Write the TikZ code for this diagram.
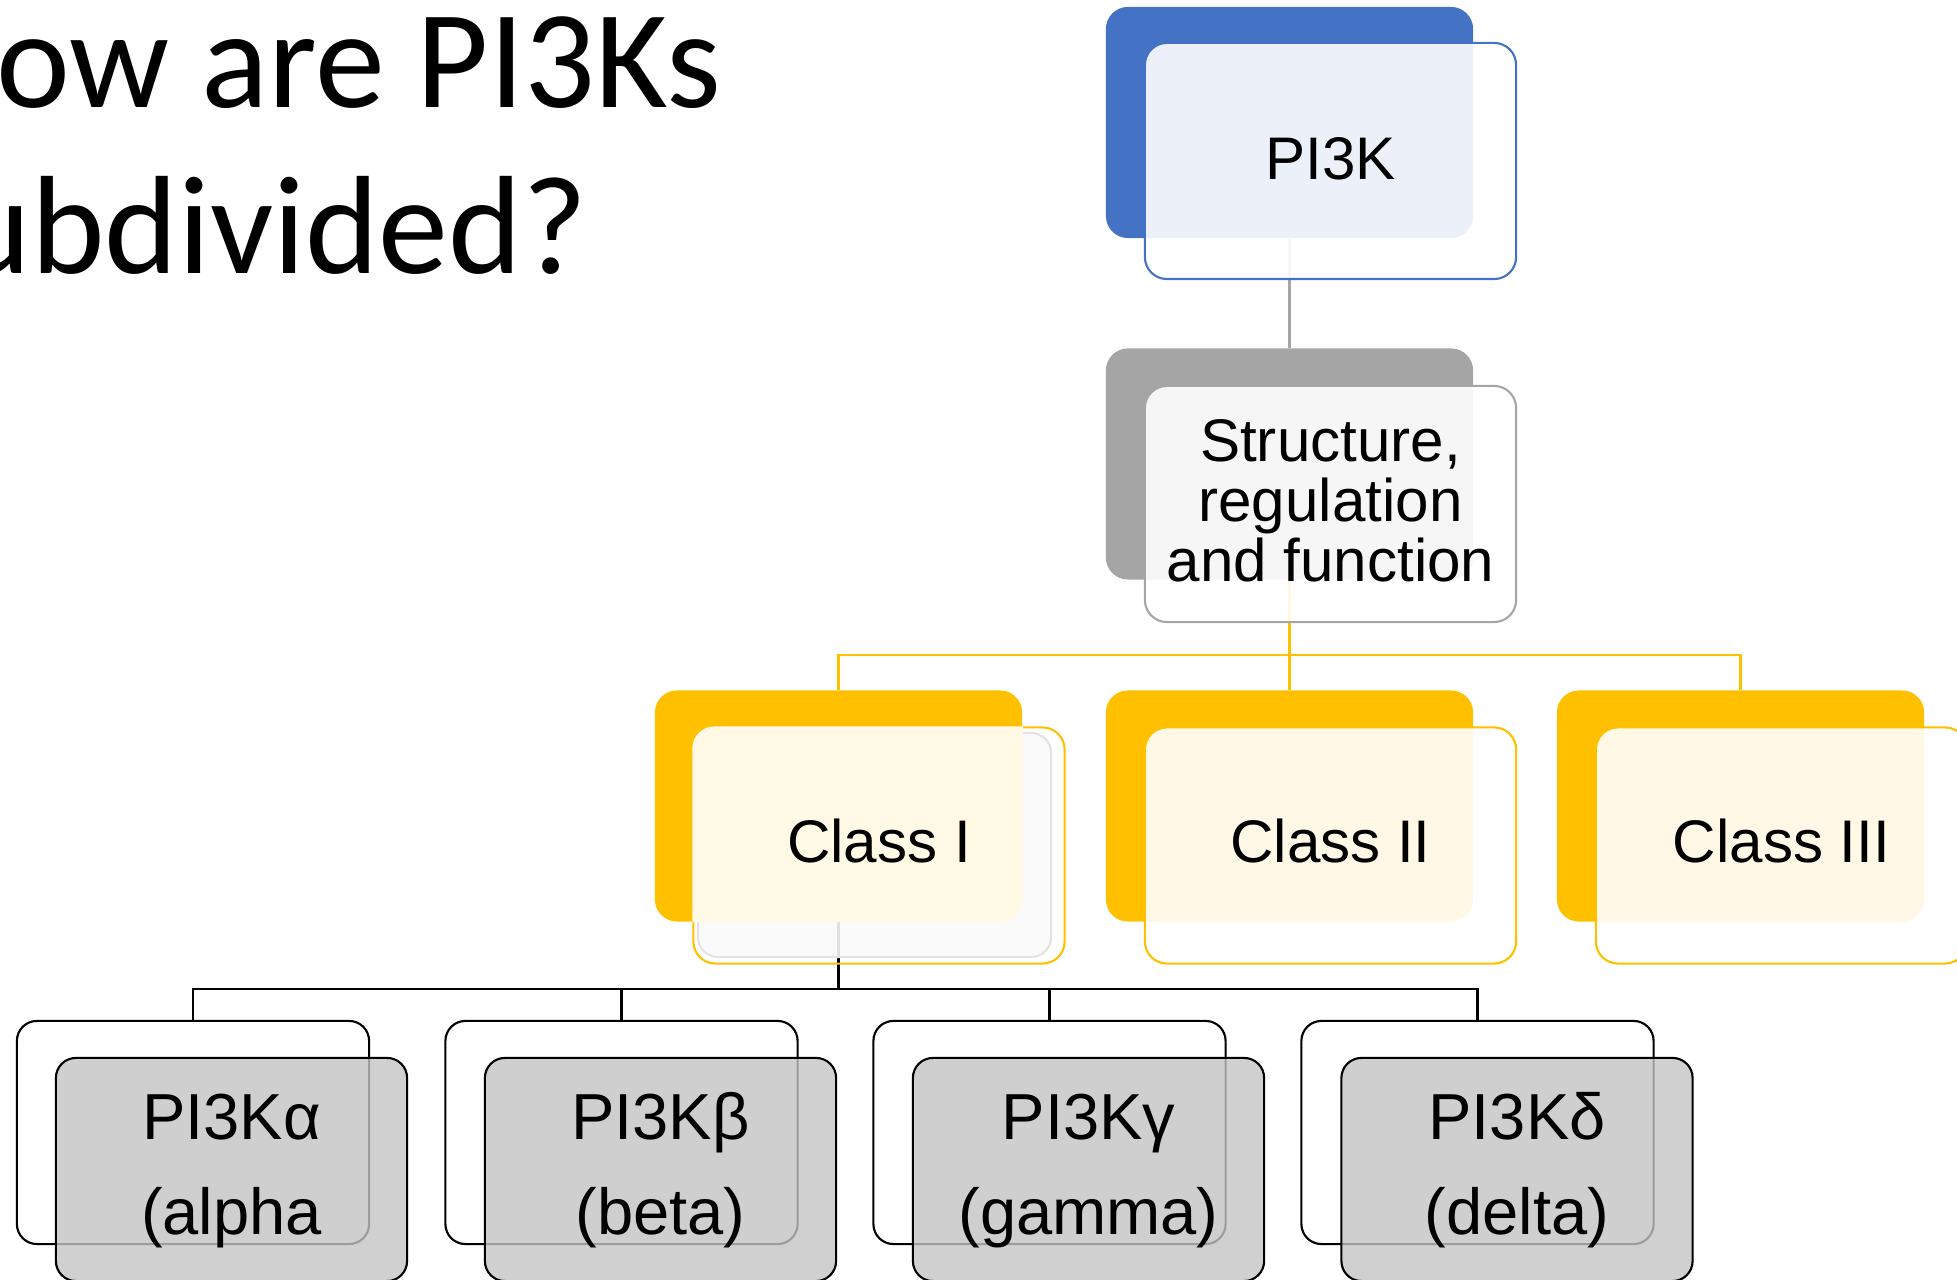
\documentclass[tikz,border=0pt]{standalone}
\usepackage{fontspec}
\setmainfont{Liberation Sans}
\newfontfamily\titlefont{Carlito}
\definecolor{pblue}{HTML}{4472C4}
\definecolor{pgray}{HTML}{A5A5A5}
\definecolor{pyel}{HTML}{FFC000}
\definecolor{plight}{HTML}{FFF9E5}
\definecolor{pshade}{HTML}{C4C4C4}
\definecolor{pghost}{HTML}{F9F9F9}
\definecolor{pghostline}{HTML}{E3E3E3}
\begin{document}
\begin{tikzpicture}[x=0.01cm,y=-0.01cm,
  backbox/.style={rectangle, minimum width=3.67cm, minimum height=2.31cm, inner sep=0pt, rounded corners=0.22cm},
  frontbox/.style={rectangle, minimum width=3.71cm, minimum height=2.36cm, inner sep=0pt, rounded corners=0.22cm, line width=0.6pt, fill=white, fill opacity=0.9},
  leafback/.style={rectangle, minimum width=3.52cm, minimum height=2.23cm, inner sep=0pt, rounded corners=0.2cm, draw=black, line width=0.6pt, fill=white},
  leaffront/.style={rectangle, minimum width=3.51cm, minimum height=2.23cm, inner sep=0pt, rounded corners=0.2cm, draw=black, line width=0.6pt, fill=pshade, fill opacity=0.8},
  ghostbox/.style={rectangle, minimum width=3.53cm, minimum height=2.24cm, inner sep=0pt, rounded corners=0.2cm, draw=pghostline, line width=0.6pt, fill=pghost, fill opacity=0.9},
  lab/.style={anchor=base, inner sep=0pt, font=\fontsize{17.1pt}{20pt}\selectfont},
  leaflab/.style={anchor=base, inner sep=0pt, font=\fontsize{18.5pt}{22pt}\selectfont},
  titlelab/.style={anchor=base east, inner sep=0pt, font=\titlefont\fontsize{39.8pt}{48pt}\selectfont},
  conn/.style={line width=0.6pt}
]
\useasboundingbox (0,0) rectangle (1957,1280);
\clip (0,0) rectangle (1957,1280);

% title
\node[titlelab] (t1) at (722,108) {ow are PI3Ks};
\node[titlelab] (t2) at (588,274) {ubdivided?};

% back boxes
\node[backbox, fill=pblue] (pkb) at (1289.5,122.5) {};
\node[backbox, fill=pgray] (sb) at (1289.5,464) {};
\node[backbox, fill=pyel] (c1b) at (838.5,806) {};
\node[backbox, fill=pyel] (c2b) at (1289.5,806) {};
\node[backbox, fill=pyel] (c3b) at (1740.5,806) {};
\node[leafback] (l1b) at (193,1132.5) {};
\node[leafback] (l2b) at (621.5,1132.5) {};
\node[leafback] (l3b) at (1049.5,1132.5) {};
\node[leafback] (l4b) at (1477.5,1132.5) {};

% connectors
\coordinate (j0) at (1289.5,655);
\coordinate (j1) at (838.5,989);
\draw[conn, pgray] (pkb.south) -- (sb.north);
\draw[conn, pyel] (sb.south) -- (j0) -| (c1b.north);
\draw[conn, pyel] (j0) -- (c2b.north);
\draw[conn, pyel] (j0) -| (c3b.north);
\draw[conn, black] (c1b.south) -- (j1) -| (l1b.north);
\draw[conn, black] (j1) -| (l2b.north);
\draw[conn, black] (j1) -| (l3b.north);
\draw[conn, black] (j1) -| (l4b.north);

% front boxes
\node[frontbox, draw=pblue] (pkf) at (1330.5,161) {};
\node[frontbox, draw=pgray] (sf) at (1330.5,504) {};
\node[ghostbox] (gh) at (874.5,845) {};
\node[rectangle, minimum width=3.71cm, minimum height=2.36cm, inner sep=0pt, rounded corners=0.22cm, line width=0.6pt, draw=pyel] (c1f) at (879,845.5) {};
\begin{scope}
  \clip[rounded corners=0.22cm] (c1f.south west) rectangle (c1f.north east);
  \fill[plight, rounded corners=0.22cm] (c1b.south west) rectangle (c1b.north east);
\end{scope}
\node[frontbox, draw=pyel] (c2f) at (1330.5,845.5) {};
\node[frontbox, draw=pyel] (c3f) at (1781.5,845.5) {};
\node[leaffront] (l1f) at (231.5,1169.5) {};
\node[leaffront] (l2f) at (660.5,1169.5) {};
\node[leaffront] (l3f) at (1088.5,1169.5) {};
\node[leaffront] (l4f) at (1517,1169.5) {};

% labels
\node[lab] (pkt) at (1330.5,180) {PI3K};
\node[lab] (st1) at (1330.5,462) {Structure,};
\node[lab] (st2) at (1330.5,522) {regulation};
\node[lab] (st3) at (1330.5,582) {and function};
\node[lab] (c1t) at (879,863) {Class I};
\node[lab] (c2t) at (1330.5,863) {Class II};
\node[lab] (c3t) at (1781.5,863) {Class III};
\node[leaflab] (l1t) at (231.5,1140) {PI3Kα};
\node[leaflab] (l1u) at (231.5,1235) {(alpha};
\node[leaflab] (l2t) at (660.5,1140) {PI3Kβ};
\node[leaflab] (l2u) at (660.5,1235) {(beta)};
\node[leaflab] (l3t) at (1088.5,1140) {PI3Kγ};
\node[leaflab] (l3u) at (1088.5,1235) {(gamma)};
\node[leaflab] (l4t) at (1517,1140) {PI3Kδ};
\node[leaflab] (l4u) at (1517,1235) {(delta)};
\end{tikzpicture}
\end{document}
